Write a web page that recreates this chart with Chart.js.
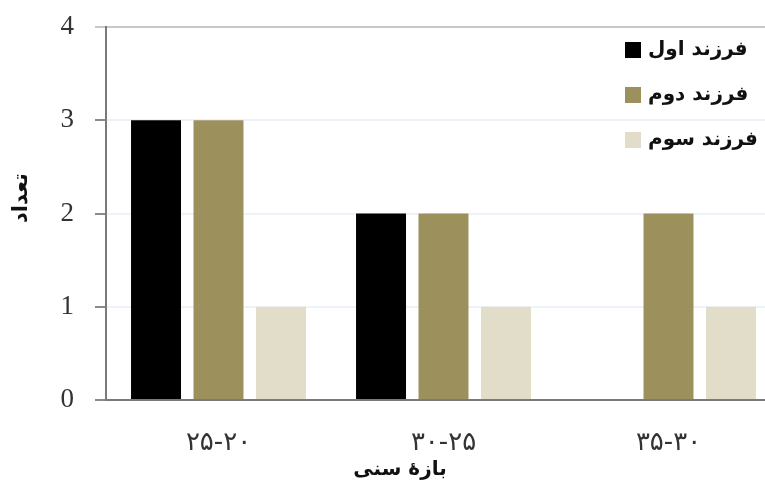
<!DOCTYPE html>
<html>
<head>
<meta charset="utf-8">
<script src="https://cdn.jsdelivr.net/npm/chart.js@4.4.0/dist/chart.umd.min.js"></script>
<style>
  html, body { margin: 0; padding: 0; background: #fff; overflow: hidden; }
  #wrap { width: 765px; height: 494px; overflow: hidden; }
</style>
</head>
<body>
<div id="wrap"><canvas id="barChart" width="785" height="494"></canvas></div>
<script>
const categories = ['۲۵-۲۰', '۳۰-۲۵', '۳۵-۳۰'];
const firstChild = [3, 2, 0];
const secondChild = [3, 2, 2];
const thirdChild = [1, 1, 1];
const seriesNames = ['فرزند اول', 'فرزند دوم', 'فرزند سوم'];
const seriesColors = ['#000000', '#9c915c', '#e2ddc8'];
const yTicks = [0, 1, 2, 3, 4];

const persian = '"DejaVu Sans", sans-serif';
const serif = '"Liberation Serif", "DejaVu Serif", serif';

// legend drawn on the right like the original (box right of text, top-right)
const sideLegend = {
  id: 'sideLegend',
  afterDraw(chart) {
    const c = chart.ctx;
    c.save();
    c.font = 'bold 20px ' + persian;
    c.textBaseline = 'middle';
    c.direction = 'rtl';
    c.textAlign = 'left';
    chart.data.datasets.forEach((ds, i) => {
      const y = 50 + i * 45;
      c.fillStyle = ds.backgroundColor;
      c.fillRect(625, y - 8, 16, 16);
      c.fillStyle = '#111';
      c.fillText(ds.label, 648, y);
    });
    c.restore();
  }
};

// axis titles placed where the original has them
const axisTitles = {
  id: 'axisTitles',
  afterDraw(chart) {
    const c = chart.ctx;
    c.save();
    c.fillStyle = '#111';
    c.textAlign = 'center';
    c.textBaseline = 'middle';
    c.direction = 'rtl';
    c.font = 'bold 20px ' + persian;
    c.fillText('بازهٔ سنی', 400, 470);
    c.font = 'bold 21px ' + persian;
    c.translate(22, 198);
    c.rotate(-Math.PI / 2);
    c.fillText('تعداد', 0, 0);
    c.restore();
  }
};

const ctx = document.getElementById('barChart');

new Chart(ctx, {
  type: 'bar',
  data: {
    labels: categories,
    datasets: [
      { label: seriesNames[0], data: firstChild, backgroundColor: seriesColors[0] },
      { label: seriesNames[1], data: secondChild, backgroundColor: seriesColors[1] },
      { label: seriesNames[2], data: thirdChild, backgroundColor: seriesColors[2] }
    ]
  },
  options: {
    responsive: false,
    animation: false,
    devicePixelRatio: 1,
    categoryPercentage: 0.833,
    barPercentage: 0.8,
    layout: { padding: { top: 27, right: 4, left: 0, bottom: 0 } },
    plugins: {
      legend: { display: false },
      tooltip: { enabled: false }
    },
    scales: {
      x: {
        grid: { display: false, drawTicks: false },
        border: { color: '#7a7a7a', width: 2 },
        ticks: {
          padding: 28,
          color: '#333',
          font: { family: persian, size: 26 }
        },
        afterFit(scale) { scale.height = 94; }
      },
      y: {
        min: 0,
        max: 4,
        afterBuildTicks(scale) { scale.ticks = yTicks.map(v => ({ value: v })); },
        grid: {
          color: c => c.tick && c.tick.value === 4 ? '#c8c8c8' : (c.tick && c.tick.value === 0 ? '#7a7a7a' : '#eef3fa'),
          tickColor: c => c.tick && c.tick.value === 4 ? '#c8c8c8' : '#8a8a8a',
          tickLength: 11,
          lineWidth: 2
        },
        border: { color: '#7a7a7a', width: 2 },
        ticks: {
          padding: 21,
          color: '#333',
          font: { family: serif, size: 27 }
        },
        afterFit(scale) {
          scale.width = 106;
          scale.paddingTop = 0;
          scale.paddingBottom = 0;
        }
      }
    }
  },
  plugins: [sideLegend, axisTitles]
});
</script>
</body>
</html>
